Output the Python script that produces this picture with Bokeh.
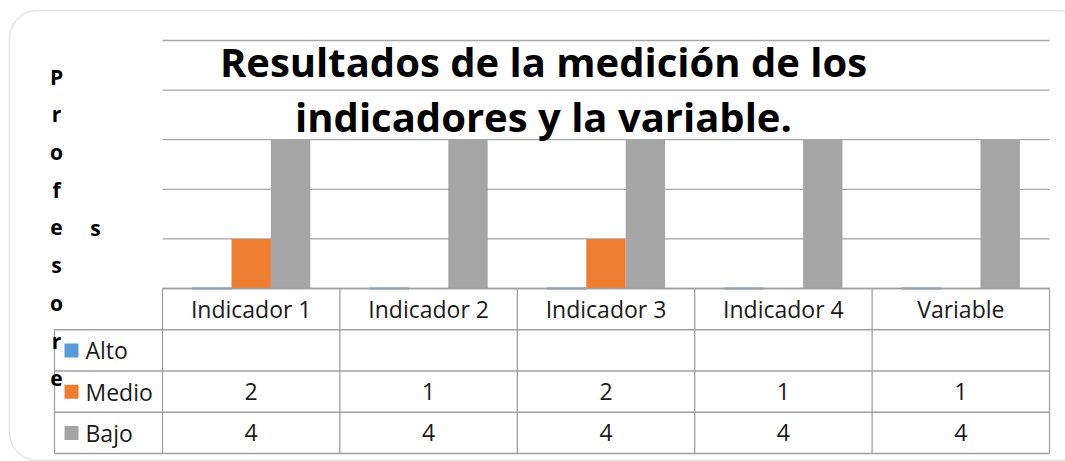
import numpy as np
from bokeh.plotting import figure
from bokeh.models import Range1d, BoxAnnotation
from bokeh.core.properties import value
from bokeh.embed import file_html
from bokeh.resources import INLINE

# ---------------- data ----------------
categories = ["Indicador 1", "Indicador 2", "Indicador 3", "Indicador 4", "Variable"]
series = ["Alto", "Medio", "Bajo"]
alto = [None, None, None, None, None]
medio = [2, 1, 2, 1, 1]
bajo = [4, 4, 4, 4, 4]
colors = ["#5B9BD5", "#ED7D31", "#A5A5A5"]
y_ticks = [1, 2, 3, 4, 5, 6]
title_lines = ["Resultados de la medición de los", "indicadores y la variable."]
y_label = "Profesores"

values = [alto, medio, bajo]

# ---------------- geometry (page pixels) ----------------
W, H = 1065, 461
PX0, PY0 = 0, 0
plot_left, plot_right = 162, 1049
plot_top, plot_base = 40, 288
ymin, ymax = y_ticks[0], y_ticks[-1]
ncat = len(categories)
unit_x = (plot_right - plot_left) / ncat
unit_y = (plot_base - plot_top) / (ymax - ymin)
x_start = -(plot_left - PX0) / unit_x
x_end = ncat + (PX0 + W - plot_right) / unit_x
y_end = ymax + (plot_top - PY0) / unit_y
y_start = ymin - (PY0 + H - plot_base) / unit_y

GRID = "#A6A6A6"
TABLE = "#A0A0A0"
FONT = "Open Sans"
TFS = "23px"

p = figure(width=W, height=H, x_range=Range1d(x_start, x_end),
           y_range=Range1d(y_start, y_end), output_backend="svg",
           toolbar_location=None, min_border=0,
           x_axis_location=None, y_axis_location=None)
p.grid.visible = False
p.outline_line_color = None
p.background_fill_color = "white"
p.border_fill_color = "white"
p.extra_x_ranges = {"px": Range1d(PX0, PX0 + W)}
p.extra_y_ranges = {"px": Range1d(PY0 + H, PY0)}

# chart area border (rounded)
p.add_layout(BoxAnnotation(left=9, right=1085, top=10, bottom=460,
                           x_range_name="px", y_range_name="px",
                           fill_alpha=0, line_color="#A6A6A6", line_width=1.5,
                           border_radius=28))

# gridlines
p.segment(x0=[0] * len(y_ticks), x1=[ncat] * len(y_ticks), y0=y_ticks, y1=y_ticks,
          line_color=GRID, line_width=1.3)

# bars
bw = 0.222
xc = np.arange(ncat) + 0.5
for k, (s, vals, col) in enumerate(zip(series, values, colors)):
    off = (k - 1) * bw
    tops = [max(v if v is not None else ymin, ymin) for v in vals]
    p.vbar(x=xc + off, width=bw, bottom=ymin, top=tops, fill_color=col,
           line_color=col if s == "Alto" else None, line_width=2)

# data table
row_h = 41.25
row_edges = [plot_base + i * row_h for i in range(len(series) + 2)]
left_col = (54 - plot_left) / unit_x
p.segment(x0=[0], x1=[ncat], y0=[row_edges[0]], y1=[row_edges[0]],
          y_range_name="px", line_color=TABLE, line_width=1.3)
p.segment(x0=[left_col] * 4, x1=[ncat] * 4, y0=row_edges[1:], y1=row_edges[1:],
          y_range_name="px", line_color=TABLE, line_width=1.3)
p.segment(x0=list(range(ncat + 1)), x1=list(range(ncat + 1)),
          y0=[row_edges[0]] * (ncat + 1), y1=[row_edges[-1]] * (ncat + 1),
          y_range_name="px", line_color=TABLE, line_width=1.3)
p.segment(x0=[left_col], x1=[left_col], y0=[row_edges[1]], y1=[row_edges[-1]],
          y_range_name="px", line_color=TABLE, line_width=1.3)

row_c = [(row_edges[i] + row_edges[i + 1]) / 2 for i in range(len(row_edges) - 1)]
p.text(x=xc, y=[row_c[0]] * ncat, text=categories, y_range_name="px",
       text_font=value(FONT), text_font_size=TFS, text_align="center",
       text_baseline="middle", text_color="#1a1a1a")
for k, vals in enumerate(values):
    txt = ["" if v is None else str(v) for v in vals]
    p.text(x=xc, y=[row_c[k + 1]] * ncat, text=txt, y_range_name="px",
           text_font=value(FONT), text_font_size=TFS, text_align="center",
           text_baseline="middle", text_color="#1a1a1a")

# legend keys inside table
p.rect(x=[71] * 3, y=row_c[1:], width=14, height=14, x_range_name="px",
       y_range_name="px", fill_color=colors, line_color=None)
p.text(x=[85] * 3, y=row_c[1:], text=series, x_range_name="px", y_range_name="px",
       text_font=value(FONT), text_font_size=TFS, text_align="left",
       text_baseline="middle", text_color="#1a1a1a")

# title
p.text(x=[543, 543], y=[61, 116], text=title_lines, x_range_name="px",
       y_range_name="px", text_font=value(FONT), text_font_size="40px",
       text_font_style="bold", text_align="center", text_baseline="alphabetic",
       text_color="black")

# vertical axis title, letter by letter
letters = list(y_label)
lx = [56] * 9 + [95]
ly = [76 + i * 37.75 for i in range(9)] + [76 + 4 * 37.75]
p.text(x=lx, y=ly, text=letters, x_range_name="px", y_range_name="px",
       text_font=value(FONT), text_font_size="21px", text_font_style="bold",
       text_align="center", text_baseline="middle", text_color="black")

open("out.html", "w").write(file_html(p, INLINE))
